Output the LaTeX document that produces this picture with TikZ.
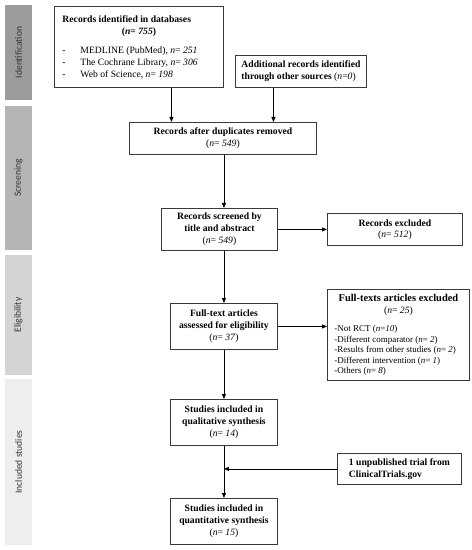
\documentclass[tikz,border=0pt]{standalone}
\usepackage{fontspec}
\setmainfont{Liberation Serif}
\newfontfamily\barfont{Carlito}
\usepackage{xcolor}
\usetikzlibrary{arrows.meta}
\definecolor{idcol}{HTML}{9C9C9C}
\definecolor{scrcol}{HTML}{B5B5B5}
\definecolor{elcol}{HTML}{D4D4D4}
\definecolor{inccol}{HTML}{EEEEEE}
\definecolor{boxline}{HTML}{3A3A3A}
\definecolor{bartext}{HTML}{333333}
\newcommand{\nv}[1]{{\mdseries(\textit{n}= \textit{#1})}}
\setlength{\parindent}{0pt}

\begin{document}
\begin{tikzpicture}[x=1bp,y=1bp]
			\tikzstyle{every node}+=[inner sep=0pt]
			\tikzstyle{box}=[draw=boxline, line width=0.9bp, anchor=north west, align=center, font=\fontsize{9.7}{12}\selectfont\bfseries]
			\tikzstyle{bar}=[rotate=90, minimum height=27bp, text=bartext, font=\barfont\fontsize{9.6}{11}\selectfont]
			\tikzstyle{arr}=[-{Triangle[length=5bp,width=4bp]}, line width=0.8bp, black]
			\useasboundingbox (0,0) rectangle (472,-550);
			\node [bar, fill=idcol, minimum width=95bp] (idbar) at (18.5,-52.5) {Identification};
			\node [bar, fill=scrcol, minimum width=144bp] (scrbar) at (18.5,-178) {Screening};
			\node [bar, fill=elcol, minimum width=120bp] (elbar) at (18.5,-315) {Eligibility};
			\node [bar, fill=inccol, minimum width=166bp] (incbar) at (18.5,-462) {Included studies};
			\node [box, minimum width=169bp, minimum height=81bp, text width=153bp, align=none] (db) at (54,-6) {%
				\raggedright Records identified in databases\par
				\centering (\textit{n}= \textit{755})\par
				\vspace{7bp}\raggedright\mdseries
				\makebox[18bp][l]{-}MEDLINE (PubMed), \textit{n}= \textit{251}\par
				\makebox[18bp][l]{-}The Cochrane Library, \textit{n}= \textit{306}\par
				\makebox[18bp][l]{-}Web of Science, \textit{n}= \textit{198}\par};
			\node [box, minimum width=131bp, minimum height=32bp, align=left] (add) at (235,-55) {Additional records identified\\through other sources {\mdseries(\textit{n}=\textit{0})}};
			\node [box, minimum width=187bp, minimum height=32bp] (dup) at (129,-122) {Records after duplicates removed\\\nv{549}};
			\node [box, minimum width=116bp, minimum height=42bp] (screened) at (161,-208) {Records screened by\\title and abstract\\\nv{549}};
			\node [box, minimum width=135bp, minimum height=32bp, font=\fontsize{9.7}{10.5}\selectfont\bfseries] (excl) at (327,-213) {Records excluded\\\nv{512}};
			\node [box, minimum width=107bp, minimum height=46bp] (ft) at (170,-303) {Full-text articles\\assessed for eligibility\\\nv{37}};
			\node [box, minimum width=142bp, minimum height=91bp, text width=128bp, align=none] (ex2) at (327,-289) {%
				\centering{\fontsize{10.5}{11}\selectfont Full-texts articles excluded\par}
				\nv{25}\par
				\vspace{8bp}\raggedright\mdseries\fontsize{9}{10.5}\selectfont
				-Not RCT (\textit{n}=\textit{10})\par
				-Different comparator (\textit{n}= \textit{2})\par
				-Results from other studies (\textit{n}= \textit{2})\par
				-Different intervention (\textit{n}= \textit{1})\par
				-Others (\textit{n}= \textit{8})\par};
			\node [box, minimum width=107bp, minimum height=46bp] (qual) at (170,-399) {Studies included in\\qualitative synthesis\\\nv{14}};
			\node [box, minimum width=107bp, minimum height=46bp] (quant) at (170,-498) {Studies included in\\quantitative synthesis\\\nv{15}};
			\node [box, minimum width=124bp, minimum height=31bp, align=left] (unpub) at (337,-453) {1 unpublished trial from\\ClinicalTrials.gov};
			\draw [arr] ([xshift=32.5bp]db.south) -- ([xshift=32.5bp]db.south |- dup.north);
			\draw [arr] ([xshift=-27.5bp]add.south) -- ([xshift=-27.5bp]add.south |- dup.north);
			\draw [arr] (dup.south -| ft.north) -- (screened.north -| ft.north);
			\draw [arr] (screened.east) -- (screened.east -| excl.west);
			\draw [arr] (screened.south -| ft.north) -- (ft.north);
			\draw [arr] (ft.east) -- (ft.east -| ex2.west);
			\draw [arr] (ft.south) -- (qual.north);
			\draw [arr] (qual.south) -- (quant.north);
			\draw [arr] (unpub.west) -- (unpub.west -| qual.south);
		\end{tikzpicture}
\end{document}
